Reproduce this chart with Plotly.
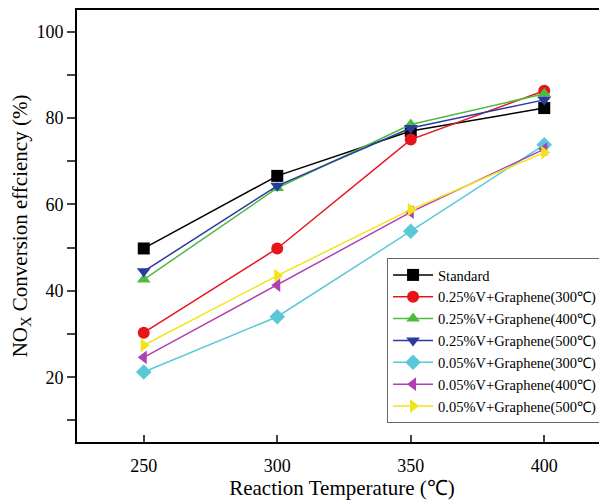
import plotly.graph_objects as go

temps = [250, 300, 350, 400]
names = ["Standard",
         "0.25%V+Graphene(300℃)",
         "0.25%V+Graphene(400℃)",
         "0.25%V+Graphene(500℃)",
         "0.05%V+Graphene(300℃)",
         "0.05%V+Graphene(400℃)",
         "0.05%V+Graphene(500℃)"]
standard = [49.8, 66.6, 77.0, 82.3]
v025_300 = [30.3, 49.8, 75.0, 86.3]
v025_400 = [42.6, 63.8, 78.5, 85.6]
v025_500 = [44.5, 64.3, 77.7, 84.2]
v005_300 = [21.2, 34.0, 53.8, 73.8]
v005_400 = [24.6, 41.3, 58.2, 72.8]
v005_500 = [27.4, 43.5, 58.8, 72.0]
series = [standard, v025_300, v025_400, v025_500, v005_300, v005_400, v005_500]
colors = ["#000000", "#e8141c", "#4cbb3e", "#2b3a9e", "#5bc8d8", "#b040b0", "#f2e41a"]
symbols = ["square", "circle", "triangle-up", "triangle-down", "diamond", "triangle-left", "triangle-right"]

fig = go.Figure()
for n, s, c, m in zip(names, series, colors, symbols):
    fig.add_trace(go.Scatter(x=temps, y=s, name=n, mode="lines+markers",
                             line=dict(color=c, width=1.5),
                             marker=dict(symbol=m, size=12, color=c)))

font = "Liberation Serif"
fig.update_layout(
    width=599, height=494,
    margin=dict(l=69, r=0, t=2, b=60),
    paper_bgcolor="white", plot_bgcolor="white",
    font=dict(family=font, color="black", size=17),
    showlegend=True,
    legend=dict(x=0.585, y=0.044, xanchor="left", yanchor="bottom",
                bordercolor="#666666", borderwidth=1, bgcolor="white",
                font=dict(size=14.5, family=font), tracegroupgap=0,
                itemwidth=40),
)
fig.update_xaxes(range=[225, 423.5], tickvals=temps, ticks="inside", ticklen=7,
                 tickwidth=2, showline=True, linewidth=2, linecolor="black",
                 mirror=True, showgrid=False, zeroline=False, ticklabelstandoff=6,
                 tickfont=dict(size=18, family=font),
                 title=dict(text="Reaction Temperature (℃)", font=dict(size=21, family=font), standoff=6))
fig.update_yaxes(range=[5, 105], tickvals=[20, 40, 60, 80, 100], ticks="outside", ticklen=8,
                 tickwidth=2, showline=True, linewidth=2, linecolor="black",
                 showgrid=False, zeroline=False, tickfont=dict(size=18, family=font),
                 minor=dict(tickvals=[10, 30, 50, 70, 90], ticks="outside", ticklen=8, tickwidth=2),
                 title=dict(text="NO<sub>X</sub> Conversion effciency (%)", font=dict(size=21, family=font), standoff=12))
fig.write_html("out.html")
